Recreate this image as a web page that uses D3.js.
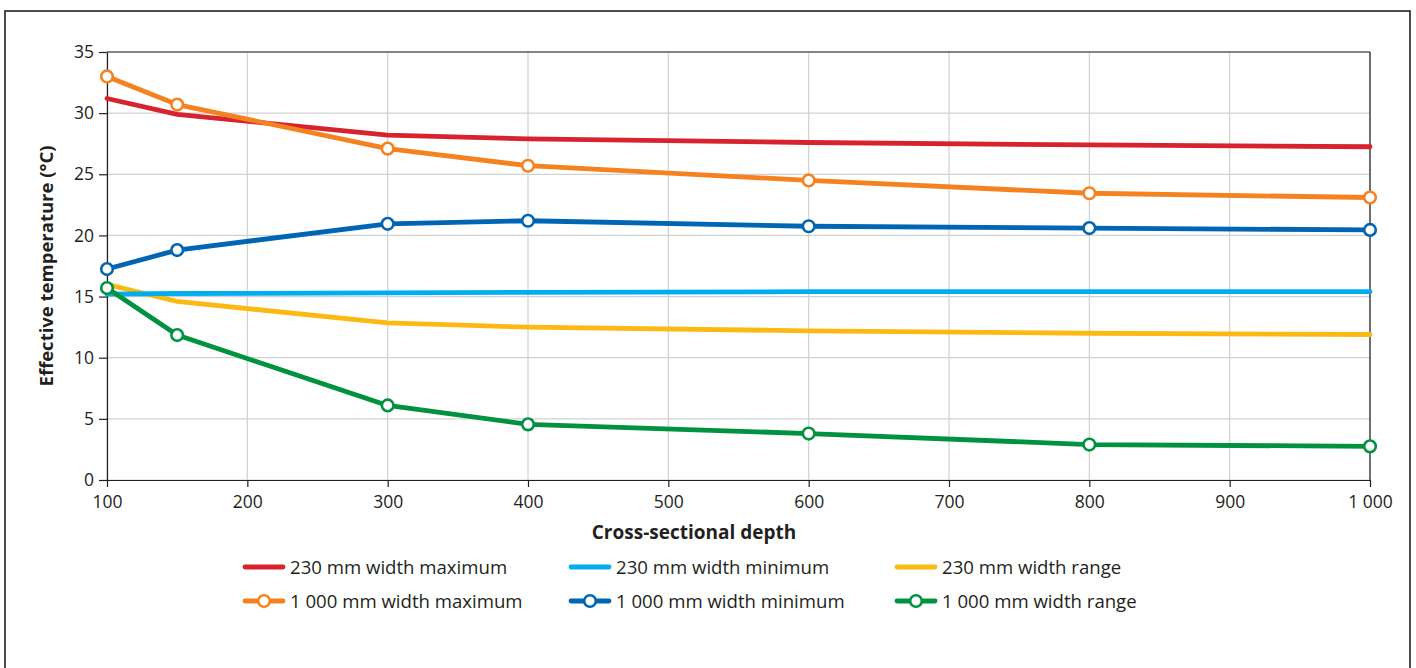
<!DOCTYPE html>
<html>
<head>
<meta charset="utf-8">
<script src="https://cdn.jsdelivr.net/npm/d3@7"></script>
<style>
  body { margin: 0; background: #fff; }
  svg text { font-family: "Open Sans", "Noto Sans", sans-serif; fill: #231f20; }
</style>
</head>
<body>
<div id="chart"></div>
<script>
// depths (mm) at which values are read
var depths = [100, 150, 300, 400, 600, 800, 1000];

// effective temperature (deg C) per series
var max230 = [31.2, 29.9, 28.2, 27.9, 27.6, 27.4, 27.25];
var min230 = [15.2, 15.25, 15.3, 15.35, 15.4, 15.4, 15.4];
var range230 = [16.0, 14.6, 12.85, 12.5, 12.2, 12.0, 11.9];
var max1000 = [33.0, 30.7, 27.1, 25.7, 24.5, 23.45, 23.1];
var min1000 = [17.25, 18.8, 20.95, 21.2, 20.75, 20.6, 20.45];
var range1000 = [15.7, 11.85, 6.1, 4.55, 3.8, 2.9, 2.75];

var xTicks = [100, 200, 300, 400, 500, 600, 700, 800, 900, 1000];
var yTicks = [0, 5, 10, 15, 20, 25, 30, 35];

var series = [
	{ name: "230 mm width maximum", values: max230, color: "#d7232e", markers: false },
	{ name: "230 mm width minimum", values: min230, color: "#00aeef", markers: false },
	{ name: "230 mm width range", values: range230, color: "#fdb913", markers: false },
	{ name: "1 000 mm width maximum", values: max1000, color: "#f58220", markers: true },
	{ name: "1 000 mm width minimum", values: min1000, color: "#0065b3", markers: true },
	{ name: "1 000 mm width range", values: range1000, color: "#00923f", markers: true }
];

var W = 1416, H = 668;
var margin = { left: 107, right: 46, top: 52, bottom: 188 };

var svg = d3.select("#chart").append("svg")
	.attr("width", W)
	.attr("height", H);

// outer frame
svg.append("rect")
	.attr("x", 5).attr("y", 11)
	.attr("width", 1405).attr("height", 700)
	.attr("fill", "none")
	.attr("stroke", "#231f20")
	.attr("stroke-width", 1.6);

var x = d3.scaleLinear().domain([100, 1000]).range([margin.left, W - margin.right]);
var y = d3.scaleLinear().domain([0, 35]).range([H - margin.bottom, margin.top]);

var fmt = function(d) { return d >= 1000 ? "1 000" : d; };

// gridlines
svg.append("g").selectAll("line").data(xTicks).enter().append("line")
	.attr("x1", function(d) { return x(d); }).attr("x2", function(d) { return x(d); })
	.attr("y1", y(0)).attr("y2", y(35))
	.attr("stroke", "#d1d1d1").attr("stroke-width", 1.2);
svg.append("g").selectAll("line").data(yTicks).enter().append("line")
	.attr("x1", x(100)).attr("x2", x(1000))
	.attr("y1", function(d) { return y(d); }).attr("y2", function(d) { return y(d); })
	.attr("stroke", "#d1d1d1").attr("stroke-width", 1.2);

// top and right border of the plot
svg.append("line").attr("x1", x(100)).attr("x2", x(1000)).attr("y1", y(35)).attr("y2", y(35))
	.attr("stroke", "#231f20").attr("stroke-width", 1.2);
svg.append("line").attr("x1", x(1000)).attr("x2", x(1000)).attr("y1", y(35)).attr("y2", y(0))
	.attr("stroke", "#231f20").attr("stroke-width", 1.2);

// axes
var xAxis = svg.append("g")
	.attr("transform", "translate(0," + y(0) + ")")
	.call(d3.axisBottom(x).tickValues(xTicks).tickFormat(fmt).tickSize(7).tickSizeOuter(0));
var yAxis = svg.append("g")
	.attr("transform", "translate(" + x(100) + ",0)")
	.call(d3.axisLeft(y).tickValues(yTicks).tickSize(8).tickSizeOuter(0));

[xAxis, yAxis].forEach(function(a) {
	a.select(".domain").attr("stroke", "#231f20").attr("stroke-width", 1.2);
	a.selectAll(".tick line").attr("stroke", "#231f20").attr("stroke-width", 1.2);
	a.selectAll(".tick text")
		.style("font-size", "17.5px")
		.attr("fill", "#231f20");
});
xAxis.selectAll(".tick text").attr("dy", "1.05em");
yAxis.selectAll(".tick text").attr("x", -13);

// axis titles
svg.append("text")
	.attr("x", 694)
	.attr("y", 539)
	.attr("text-anchor", "middle")
	.style("font-size", "19px")
	.style("font-weight", "bold")
	.text("Cross-sectional depth");

svg.append("text")
	.attr("transform", "translate(53," + 266 + ") rotate(-90)")
	.attr("text-anchor", "middle")
	.style("font-size", "18.5px")
	.style("font-weight", "bold")
	.text("Effective temperature (°C)");

// lines
var line = d3.line()
	.x(function(d, i) { return x(depths[i]); })
	.y(function(d) { return y(d); });

var order = [2, 1, 0, 5, 4, 3];
order.forEach(function(k) {
	var s = series[k];
	svg.append("path")
		.datum(s.values)
		.attr("d", line)
		.attr("fill", "none")
		.attr("stroke", s.color)
		.attr("stroke-width", 4.8)
		.attr("stroke-linejoin", "round")
		.attr("stroke-linecap", "round");
	if (s.markers) {
		svg.append("g").selectAll("circle")
			.data(s.values)
			.enter().append("circle")
			.attr("cx", function(d, i) { return x(depths[i]); })
			.attr("cy", function(d) { return y(d); })
			.attr("r", 5.8)
			.attr("fill", "#fff")
			.attr("stroke", s.color)
			.attr("stroke-width", 2.6);
	}
});

// legend
var legX = [245, 571, 897];
var legY = [567, 601];
var legend = svg.append("g").selectAll("g")
	.data(series)
	.enter().append("g")
	.attr("transform", function(d, i) { return "translate(" + legX[i % 3] + "," + legY[Math.floor(i / 3)] + ")"; });

legend.append("line")
	.attr("x1", 0).attr("x2", 38)
	.attr("stroke", function(d) { return d.color; })
	.attr("stroke-width", 4.8)
	.attr("stroke-linecap", "round");
legend.filter(function(d) { return d.markers; })
	.append("circle")
	.attr("cx", 19).attr("r", 5.8)
	.attr("fill", "#fff")
	.attr("stroke", function(d) { return d.color; })
	.attr("stroke-width", 2.6);
legend.append("text")
	.attr("x", 45)
	.attr("dy", "0.35em")
	.style("font-size", "18.6px")
	.text(function(d) { return d.name; });
</script>
</body>
</html>
